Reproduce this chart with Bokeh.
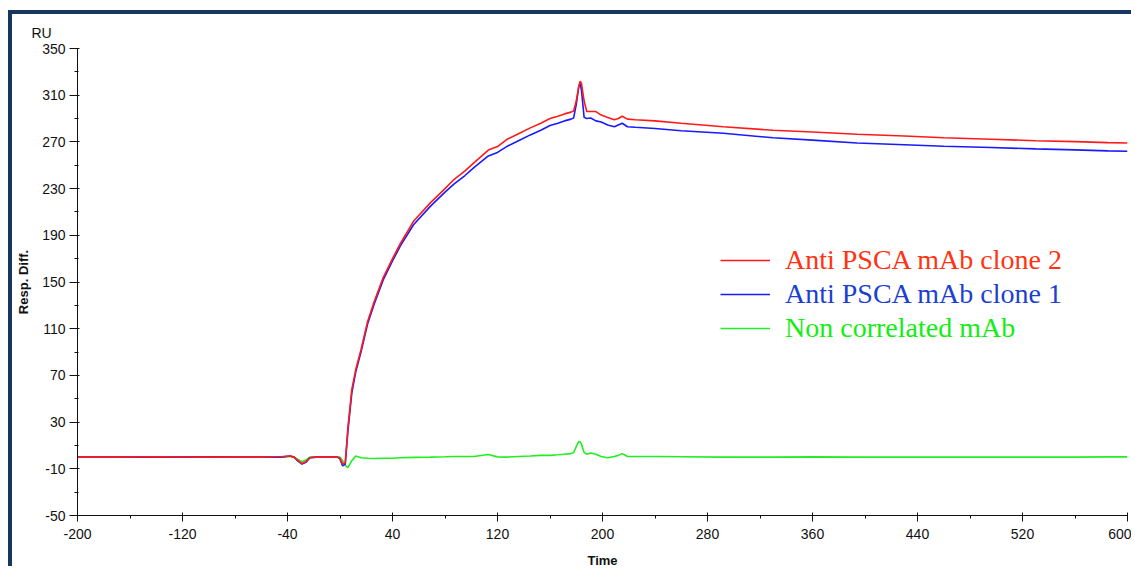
from bokeh.plotting import figure
from bokeh.models import FixedTicker, Legend, LegendItem
from bokeh.embed import file_html
from bokeh.resources import INLINE

# ---- data (time in s, response in RU) ----
time = [-200, -170, -140, -110, -80, -60, -45, -38, -35, -32, -29, -26, -23, -18, -10, -2, 0, 2, 4, 6,
        9, 12, 16, 21, 26, 33, 40, 46, 56, 69, 80, 87, 95, 102, 113, 120, 127, 136, 145, 153,
        160, 166, 171, 176, 178, 180, 182, 183, 184, 186, 188, 191, 195, 199, 204, 209, 212, 215, 219, 225,
        240, 260, 292, 330, 360, 394, 430, 460, 496, 530, 560, 585, 600]

clone2 = [0, 0, 0.3, 0, 0, 0, 0.3, 1, 0, -3, -5.5, -4, -0.5, 0, 0, 0, -1, -6, -5, 25,
          58, 75, 92, 116, 133, 154, 170, 183, 202, 218, 230, 238, 245, 252, 263, 266, 272, 277, 282, 286,
          290, 292, 294, 295.5, 296.5, 305, 318, 322, 320, 305, 296, 296, 296, 293, 291, 289, 290, 292, 289.5, 289,
          288, 286, 283, 280, 278.5, 276.5, 275, 273.5, 272.3, 271, 270.2, 269.4, 269]

clone1 = [0, 0, 0, 0.2, 0, 0, 0, 1, 0, -3.5, -6, -4.5, -0.5, 0, 0, 0, -1.5, -7.5, -6, 22,
          55, 73, 90, 114, 131, 152, 168, 181, 199, 215, 227, 234, 241, 248, 258, 261, 266, 271, 276, 280,
          284, 286, 288, 289.5, 290.5, 302, 318, 320, 314, 291, 290, 290.5, 288, 287, 284.5, 283, 284.5, 286, 283, 282.5,
          281.5, 279.5, 277.4, 273.5, 271.5, 269, 267.5, 266.3, 265.2, 264, 263.2, 262.3, 262]

noncorr = [0, 0, 0, 0, 0, 0, 0, 0.5, 0, -2, -4, -2.5, 0, 0, 0, 0, 0, -3, -7, -9,
           -3, 1, -0.5, -1, -1.2, -1, -1, -0.5, -0.2, 0, 0.3, 0.5, 0.5, 0.5, 2.2, 0.2, 0, 0.5, 1, 1.5,
           1.5, 2, 2.5, 3, 4, 9, 13.5, 13, 11, 4, 2.5, 3.5, 2.5, 0.5, -0.5, 0.5, 1.5, 3, 0.5, 0.5,
           0.5, 0.3, 0, 0, 0.2, 0, 0, 0, 0, 0, 0, 0.2, 0.2]

series_names = ["Anti PSCA mAb clone 2", "Anti PSCA mAb clone 1", "Non correlated mAb"]
line_colors = ["#ff1a1a", "#1a1aff", "#22ee22"]
text_colors = ["#ff3311", "#1b3fd0", "#11ee11"]

x_ticks = [-200, -120, -40, 40, 120, 200, 280, 360, 440, 520, 600]
y_ticks = [-50, -10, 30, 70, 110, 150, 190, 230, 270, 310, 350]

FONT = "Liberation Sans"

p = figure(width=1123, height=556, output_backend="svg", toolbar_location=None,
           x_range=(-200, 600), y_range=(-50, 350),
           min_border_left=65, min_border_right=8, min_border_top=34, min_border_bottom=52)
p.styles = {"margin-left": "8px", "margin-top": "10px",
            "border-left": "4px solid #17375e", "border-top": "4px solid #17375e"}
p.xgrid.visible = False
p.ygrid.visible = False
p.outline_line_color = None
p.background_fill_color = "white"
p.border_fill_color = "white"

# unit label above the y axis
p.title.text = "RU"
p.title.align = "left"
p.title.offset = -46
p.title.vertical_align = "bottom"
p.title.standoff = 16
p.title.text_font = FONT
p.title.text_font_size = "14px"
p.title.text_font_style = "normal"
p.title.text_color = "#111111"

for ax, ticks in ((p.xaxis[0], x_ticks), (p.yaxis[0], y_ticks)):
    minors = [(a + b) / 2 for a, b in zip(ticks[:-1], ticks[1:])]
    ax.ticker = FixedTicker(ticks=ticks, minor_ticks=minors)
    ax.major_label_overrides = {t: str(t) for t in ticks}
    ax.axis_line_color = "#111111"
    ax.axis_line_width = 1
    ax.major_tick_line_color = "#111111"
    ax.minor_tick_line_color = "#111111"
    ax.major_label_text_font = FONT
    ax.major_label_text_font_size = "14px"
    ax.major_label_text_color = "#111111"
    ax.axis_label_text_font = FONT
    ax.axis_label_text_font_size = "13px"
    ax.axis_label_text_font_style = "bold"
    ax.axis_label_text_color = "#111111"

p.xaxis.major_tick_out = 6
p.xaxis.major_tick_in = 3
p.xaxis.minor_tick_out = 3
p.xaxis.minor_tick_in = 0
p.xaxis.major_label_standoff = 7
p.xaxis.axis_label = "Time"
p.xaxis.axis_label_standoff = 11

p.yaxis.major_tick_out = 8
p.yaxis.major_tick_in = 2
p.yaxis.minor_tick_out = 3
p.yaxis.minor_tick_in = 1
p.yaxis.major_label_standoff = 4
p.yaxis.axis_label = "Resp. Diff."
p.yaxis.axis_label_standoff = 8

# data lines (green drawn first, then blue, then red on top)
renderers = {}
for name, vals, col in list(zip(series_names, [clone2, clone1, noncorr], line_colors))[::-1]:
    renderers[name] = p.line(time, vals, line_color=col, line_width=1.6)

# legend entries (separate legends so each label keeps its own colour)
legend_y = [239, 205, 171]
for name, tc, ly in zip(series_names, text_colors, legend_y):
    leg = Legend(items=[LegendItem(label=name, renderers=[renderers[name]])],
                 location=(643, ly), orientation="vertical",
                 label_text_font="Liberation Serif", label_text_font_size="28px",
                 label_text_color=tc, glyph_width=50, glyph_height=24, label_height=24,
                 label_standoff=15, padding=0, margin=0, spacing=0,
                 border_line_color=None, background_fill_alpha=0)
    p.add_layout(leg)

open("out.html", "w").write(file_html(p, INLINE))
